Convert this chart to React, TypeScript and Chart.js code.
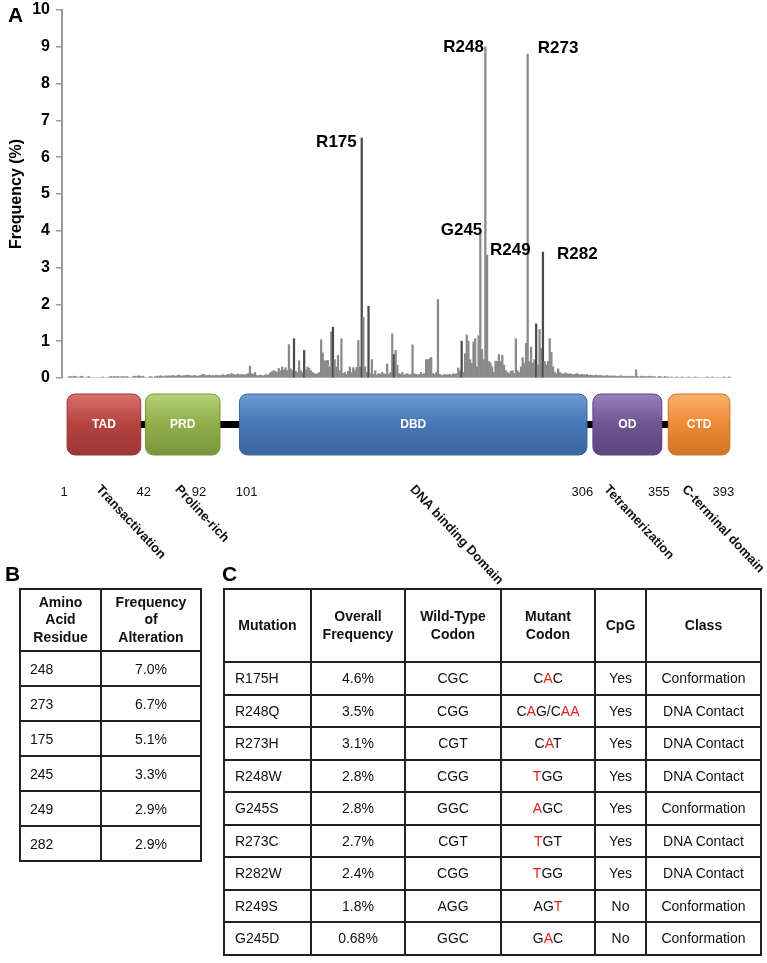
import React, { useEffect, useRef } from 'react';
import { Chart, registerables } from 'chart.js';

Chart.register(...registerables);

const FONT = '"Liberation Sans", Arial, Helvetica, sans-serif';

// ---------- Panel A data : mutation frequency (%) per residue ----------
const residues: number[] = Array.from({ length: 393 }, (_, i) => i + 1);

const freqTAD_PRD = [
  0, 0.03, 0.04, 0.03, 0.05, 0.04, 0.03, 0, 0.04, 0.05,
  0, 0, 0.03, 0.04, 0, 0, 0, 0, 0, 0,
  0, 0.03, 0, 0, 0, 0.03, 0.04, 0.03, 0.04, 0.03,
  0.04, 0.03, 0.03, 0.04, 0.03, 0.04, 0.03, 0, 0, 0.04,
  0.05, 0.04, 0.06, 0.05, 0.04, 0.05, 0, 0, 0, 0.04,
  0.03, 0, 0.04, 0.05, 0.04, 0.06, 0.05, 0.04, 0.06, 0.05,
  0.06, 0.05, 0.07, 0.06, 0.05, 0.06, 0.08, 0.06, 0.05, 0.07,
  0.06, 0.08, 0.07, 0.06, 0.05, 0.07, 0.06, 0.05, 0.06, 0.07,
  0.1, 0.09, 0.06, 0.07, 0.08, 0.06, 0.07, 0.06, 0.08, 0.07,
  0.06, 0.07, 0.09, 0.07, 0.08, 0.1, 0.09, 0.12, 0.1, 0.08,
];
const freqDBD1 = [
  0.09, 0.11, 0.08, 0.1, 0.09, 0.08, 0.1, 0.12, 0.32, 0.12,
  0.1, 0.15, 0.07, 0.06, 0.08, 0.07, 0.06, 0.08, 0.09, 0.08,
  0.14, 0.17, 0.2, 0.18, 0.15, 0.26, 0.2, 0.3, 0.22, 0.28,
  0.2, 0.91, 0.25, 0.2, 1.07, 0.18, 0.15, 0.47, 0.2, 0.15,
  0.75, 0.22, 0.3, 0.26, 0.2, 0.15, 0.12, 0.1, 0.12, 0.15,
  1.04, 0.68, 0.47, 0.47, 0.48, 0.3, 1.25, 1.38, 0.5, 0.3,
  0.62, 0.2, 1.07, 0.12, 0.15, 0.1, 0.18, 0.3, 0.15, 0.28,
  0.2, 0.29, 1.02, 0.3, 6.52, 1.65, 0.3, 0.15, 1.95, 0.12,
  0.5, 0.1, 0.2, 0.08, 0.12, 0.1, 0.15, 0.12, 0.1, 0.38,
  0.1, 0.15, 1.2, 0.64, 0.75, 0.35, 0.12, 0.1, 0.15, 0.08,
];
const freqDBD2 = [
  0.1, 0.12, 0.08, 0.1, 0.9, 0.12, 0.1, 0.08, 0.1, 0.15,
  0.1, 0.12, 0.5, 0.5, 0.52, 0.56, 0.12, 0.1, 0.15, 2.13,
  0.1, 0.08, 0.07, 0.1, 0.08, 0.09, 0.1, 0.08, 0.12, 0.1,
  0.12, 0.27, 0.2, 1.0, 0.15, 0.66, 1.17, 1.0, 0.5, 0.4,
  0.98, 1.07, 0.3, 1.15, 3.94, 0.78, 0.5, 9.0, 3.34, 0.45,
  0.41, 0.3, 0.15, 0.46, 0.45, 0.64, 0.45, 0.62, 0.35, 0.2,
  0.15, 0.12, 0.18, 0.2, 0.12, 1.07, 0.2, 0.15, 0.3, 0.55,
  0.4, 0.94, 8.8, 0.45, 0.84, 0.4, 0.5, 1.47, 0.35, 1.32,
  0.8, 3.42, 0.45, 0.35, 0.45, 1.07, 0.7, 0.3, 0.15, 0.12,
  0.25, 0.15, 0.12, 0.1, 0.14, 0.12, 0.1, 0.12, 0.1, 0.09,
];
const freqOD_CTD = [
  0.1, 0.12, 0.1, 0.08, 0.1, 0.09, 0.08, 0.1, 0.07, 0.08,
  0.07, 0.06, 0.08, 0.07, 0.06, 0.07, 0.06, 0.05, 0.06, 0.07,
  0.05, 0.06, 0.05, 0.06, 0.05, 0.04, 0.05, 0.06, 0.05, 0.04,
  0.05, 0.04, 0.05, 0.04, 0.05, 0.04, 0.22, 0.04, 0.03, 0.05,
  0.04, 0.05, 0.03, 0.04, 0.05, 0.04, 0.03, 0.04, 0, 0.03,
  0.04, 0.03, 0, 0.04, 0.03, 0.03, 0, 0.03, 0, 0,
  0.03, 0, 0, 0.03, 0, 0, 0, 0.03, 0, 0,
  0, 0.03, 0, 0, 0, 0, 0, 0, 0.03, 0,
  0, 0.03, 0, 0, 0, 0, 0, 0, 0.03, 0,
  0, 0.03, 0,
];
const frequency = [...freqTAD_PRD, ...freqDBD1, ...freqDBD2, ...freqOD_CTD];

const yTicks = [0, 1, 2, 3, 4, 5, 6, 7, 8, 9, 10];

const peakNames = ['R175', 'R248', 'R273', 'G245', 'R249', 'R282'];
const peakResidues = [175, 248, 273, 245, 249, 282];

const domainNames = ['TAD', 'PRD', 'DBD', 'OD', 'CTD'];
const domainLongNames = ['Transactivation', 'Proline-rich', 'DNA binding Domain', 'Tetramerization', 'C-terminal domain'];
const domainBoxStart = [1, 47.3, 102.8, 311.5, 356];
const domainBoxEnd = [44.5, 91.3, 308, 352.2, 392.4];
const boundaryLabels = ['1', '42', '92', '101', '306', '355', '393'];

// ---------- Panel B / C data ----------
const residueB = ['248', '273', '175', '245', '249', '282'];
const freqB = ['7.0%', '6.7%', '5.1%', '3.3%', '2.9%', '2.9%'];

const mutations = ['R175H', 'R248Q', 'R273H', 'R248W', 'G245S', 'R273C', 'R282W', 'R249S', 'G245D'];
const overallFreq = ['4.6%', '3.5%', '3.1%', '2.8%', '2.8%', '2.7%', '2.4%', '1.8%', '0.68%'];
const wtCodon = ['CGC', 'CGG', 'CGT', 'CGG', 'GGC', 'CGT', 'CGG', 'AGG', 'GGC'];
const mutCodon = ['C[A]C', 'C[A]G/C[AA]', 'C[A]T', '[T]GG', '[A]GC', '[T]GT', '[T]GG', 'AG[T]', 'G[A]C'];
const cpg = ['Yes', 'Yes', 'Yes', 'Yes', 'Yes', 'Yes', 'Yes', 'No', 'No'];
const mutClass = ['Conformation', 'DNA Contact', 'DNA Contact', 'DNA Contact', 'Conformation', 'DNA Contact', 'DNA Contact', 'Conformation', 'Conformation'];

// ---------- styles ----------
const darkResidues = new Set([135, 141, 158, 175, 179, 194, 234, 278, 282]);
const peakStyle = [
  { dx: -5, dy: 4, align: 'right' },
  { dx: -1.5, dy: 1, align: 'right' },
  { dx: 10, dy: -6, align: 'left' },
  { dx: 2, dy: -3, align: 'right' },
  { dx: 3, dy: -5, align: 'left' },
  { dx: 14, dy: 2, align: 'left' },
];
const domainColors = [
  ['#d8706c', '#b4433f', '#9a3834'],
  ['#b6d078', '#8fae4a', '#7a953c'],
  ['#6f9ad3', '#4677b6', '#3b659c'],
  ['#9a81ba', '#6f5393', '#5d457d'],
  ['#fab06a', '#ec8a35', '#cf7427'],
];
// anchors for boundary labels (residue units, x of label centre)
const boundaryAnchors = [-0.8, 46.2, 78.9, 107, 305.3, 350.5, 388.5];
// starting residue of each rotated domain label
const longLabelAnchors = [22.2, 68.8, 207.5, 322.1, 368.1];

const peakLabelPlugin = {
  id: 'peakLabels',
  afterDatasetsDraw(chart: any) {
    const { ctx, scales } = chart;
    ctx.save();
    ctx.font = `bold 17px ${FONT}`;
    ctx.fillStyle = '#000';
    ctx.textBaseline = 'middle';
    peakNames.forEach((name, i) => {
      const r = peakResidues[i];
      const x = scales.x.getPixelForValue(r);
      const y = scales.y.getPixelForValue(frequency[r - 1]);
      const st = peakStyle[i];
      ctx.textAlign = st.align;
      ctx.fillText(name, x + st.dx, y + st.dy);
    });
    ctx.restore();
  },
};

const domainPlugin = {
  id: 'domains',
  afterDraw(chart: any) {
    const { ctx, scales } = chart;
    const xs = scales.x;
    const top = 394;
    const bottom = 455;
    const mid = (top + bottom) / 2;
    ctx.save();
    const bx0 = xs.getPixelForValue(domainBoxStart[0]);
    const bx1 = xs.getPixelForValue(domainBoxEnd[domainBoxEnd.length - 1]);
    ctx.fillStyle = '#000';
    ctx.fillRect(bx0, mid - 3.5, bx1 - bx0, 7);
    domainNames.forEach((name, i) => {
      const x0 = xs.getPixelForValue(domainBoxStart[i]);
      const x1 = xs.getPixelForValue(domainBoxEnd[i]);
      const [c0, c1, c2] = domainColors[i];
      const g = ctx.createLinearGradient(0, top, 0, bottom);
      g.addColorStop(0, c0);
      g.addColorStop(0.5, c1);
      g.addColorStop(1, c2);
      ctx.beginPath();
      ctx.roundRect(x0, top, x1 - x0, bottom - top, 8);
      ctx.fillStyle = g;
      ctx.fill();
      ctx.lineWidth = 1;
      ctx.strokeStyle = c2;
      ctx.stroke();
      ctx.fillStyle = '#fff';
      ctx.font = `bold 12px ${FONT}`;
      ctx.textAlign = 'center';
      ctx.textBaseline = 'middle';
      ctx.fillText(name, (x0 + x1) / 2, mid);
    });
    ctx.fillStyle = '#111';
    ctx.font = `13px ${FONT}`;
    ctx.textAlign = 'center';
    ctx.textBaseline = 'middle';
    boundaryLabels.forEach((t, i) => {
      ctx.fillText(t, xs.getPixelForValue(boundaryAnchors[i]), 492);
    });
    ctx.font = `bold 13px ${FONT}`;
    ctx.textAlign = 'left';
    ctx.textBaseline = 'top';
    domainLongNames.forEach((t, i) => {
      ctx.save();
      ctx.translate(xs.getPixelForValue(longLabelAnchors[i]), 483);
      ctx.rotate((47 * Math.PI) / 180);
      ctx.fillText(t, 0, 0);
      ctx.restore();
    });
    ctx.restore();
  },
};

function renderCodon(s: string) {
  const parts: React.ReactNode[] = [];
  const re = /\[([^\]]+)\]|([^\[]+)/g;
  let m: RegExpExecArray | null;
  let k = 0;
  while ((m = re.exec(s))) {
    if (m[1]) parts.push(<span key={k++} style={{ color: '#e3211c' }}>{m[1]}</span>);
    else parts.push(<span key={k++}>{m[2]}</span>);
  }
  return parts;
}

const cellBorder = '2px solid #222';

function TableB() {
  const th: React.CSSProperties = { border: cellBorder, fontWeight: 'bold', textAlign: 'center', lineHeight: '17.5px', padding: 0, height: 60 };
  const td: React.CSSProperties = { border: cellBorder, padding: 0, height: 33 };
  return (
    <table style={{ position: 'absolute', left: 19, top: 588, width: 181, borderCollapse: 'collapse', fontFamily: FONT, fontSize: 14, color: '#111', tableLayout: 'fixed' }}>
      <colgroup><col style={{ width: 81 }} /><col style={{ width: 100 }} /></colgroup>
      <thead>
        <tr>
          <th style={th}>Amino<br />Acid<br />Residue</th>
          <th style={th}>Frequency<br />of<br />Alteration</th>
        </tr>
      </thead>
      <tbody>
        {residueB.map((r, i) => (
          <tr key={r}>
            <td style={{ ...td, paddingLeft: 9 }}>{r}</td>
            <td style={{ ...td, textAlign: 'center' }}>{freqB[i]}</td>
          </tr>
        ))}
      </tbody>
    </table>
  );
}

function TableC() {
  const th: React.CSSProperties = { border: cellBorder, fontWeight: 'bold', textAlign: 'center', lineHeight: '17.5px', padding: 0, height: 71 };
  const td: React.CSSProperties = { border: cellBorder, padding: 0, height: 30.5, textAlign: 'center' };
  return (
    <table style={{ position: 'absolute', left: 223, top: 588, width: 537, borderCollapse: 'collapse', fontFamily: FONT, fontSize: 14, color: '#111', tableLayout: 'fixed' }}>
      <colgroup>
        <col style={{ width: 87 }} /><col style={{ width: 94 }} /><col style={{ width: 96 }} />
        <col style={{ width: 94 }} /><col style={{ width: 51 }} /><col style={{ width: 115 }} />
      </colgroup>
      <thead>
        <tr>
          <th style={th}>Mutation</th>
          <th style={th}>Overall<br />Frequency</th>
          <th style={th}>Wild-Type<br />Codon</th>
          <th style={th}>Mutant<br />Codon</th>
          <th style={th}>CpG</th>
          <th style={th}>Class</th>
        </tr>
      </thead>
      <tbody>
        {mutations.map((m, i) => (
          <tr key={m}>
            <td style={{ ...td, textAlign: 'left', paddingLeft: 10 }}>{m}</td>
            <td style={td}>{overallFreq[i]}</td>
            <td style={td}>{wtCodon[i]}</td>
            <td style={td}>{renderCodon(mutCodon[i])}</td>
            <td style={td}>{cpg[i]}</td>
            <td style={td}>{mutClass[i]}</td>
          </tr>
        ))}
      </tbody>
    </table>
  );
}

const panelLabel: React.CSSProperties = { position: 'absolute', fontFamily: FONT, fontWeight: 'bold', fontSize: 21, lineHeight: '24px', color: '#000' };

export default function App() {
  const canvasRef = useRef<HTMLCanvasElement | null>(null);

  useEffect(() => {
    if (!canvasRef.current) return;
    const chart = new Chart(canvasRef.current, {
      type: 'bar',
      data: {
        datasets: [
          {
            data: residues.map((r, i) => ({ x: r, y: frequency[i] })),
            backgroundColor: residues.map((r) => (darkResidues.has(r) ? '#4a4a4a' : '#8a8a8a')),
            barThickness: 1.6,
            borderWidth: 0,
          },
        ],
      },
      options: {
        animation: false,
        responsive: false,
        devicePixelRatio: 1,
        layout: { padding: { top: 0, right: 31, bottom: 212, left: 0 } },
        plugins: { legend: { display: false }, tooltip: { enabled: false } },
        scales: {
          x: { type: 'linear', min: -2, max: 396, offset: false, display: false },
          y: {
            min: 0,
            max: 10,
            afterFit: (scale: any) => { scale.width = 62; scale.paddingTop = 10; scale.paddingBottom = 0; },
            afterBuildTicks: (scale: any) => { scale.ticks = yTicks.map((v) => ({ value: v })); },
            ticks: { color: '#000', font: { family: FONT, size: 16, weight: 'bold' }, padding: 6 },
            grid: { drawOnChartArea: false, drawTicks: true, tickLength: 6, color: '#9a9a9a', lineWidth: 1.5 },
            border: { display: true, color: '#9a9a9a', width: 2 },
            title: { display: true, text: 'Frequency (%)', color: '#000', font: { family: FONT, size: 16, weight: 'bold' }, padding: { top: 7, bottom: 0 } },
          },
        },
      },
      plugins: [peakLabelPlugin, domainPlugin],
    } as any);
    return () => chart.destroy();
  }, []);

  return (
    <div style={{ position: 'absolute', left: 0, top: 0, width: 767, height: 963, background: '#fff', overflow: 'hidden' }}>
      <canvas ref={canvasRef} width={767} height={590} style={{ position: 'absolute', left: 0, top: 0, width: 767, height: 590 }} />
      <div style={{ ...panelLabel, left: 8, top: 3 }}>A</div>
      <div style={{ ...panelLabel, left: 5, top: 562 }}>B</div>
      <div style={{ ...panelLabel, left: 222, top: 562 }}>C</div>
      <TableB />
      <TableC />
    </div>
  );
}
